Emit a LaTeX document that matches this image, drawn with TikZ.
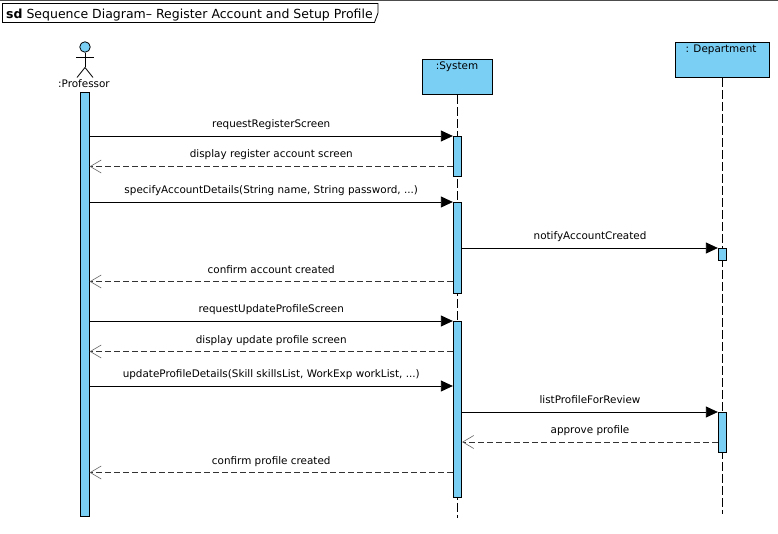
\documentclass[tikz,border=0pt]{standalone}
\usepackage{fontspec}
\setmainfont{DejaVu Sans}
\usetikzlibrary{arrows.meta}
\definecolor{vpblue}{RGB}{122,207,245}
\begin{document}
\begin{tikzpicture}[x=1pt,y=-1pt,
  lbl/.style={font=\fontsize{10.4}{12}\selectfont, inner sep=0pt, anchor=base},
  msglbl/.style={lbl, midway, yshift=8.5pt},
  actbar/.style={draw=black, fill=vpblue, line width=0.8pt, inner sep=0pt, minimum width=8.5pt, anchor=north},
  objbox/.style={draw=black, fill=vpblue, line width=0.9pt, inner sep=0pt, anchor=north west},
  lifeline/.style={draw=black, line width=0.8pt, dash pattern=on 9pt off 3pt},
  syncmsg/.style={draw=black, line width=0.8pt, -{Triangle[length=12pt,width=11pt]}},
  retmsg/.style={draw=black!80, line width=0.8pt, dash pattern=on 6pt off 3pt, -{Straight Barb[length=11pt,width=13pt,line width=0.6pt,color=black!60]}},
  actorline/.style={draw=black, line width=0.8pt}
]
\useasboundingbox (0,0) rectangle (778,534);
\fill[white] (0,0) rectangle (778,534);
\draw[black!70, line width=1.2pt] (0,0.5) -- (778,0.5);

% title tab
\draw[black, line width=0.8pt] (2.5,3.5) -- (378,3.5) -- (378,13) -- (374.5,22.5) -- (2.5,22.5) -- cycle;
\node[font=\fontsize{12.5}{14}\selectfont, inner sep=0pt, anchor=base west] (title) at (6,18.5) {\textbf{sd} Sequence Diagram– Register Account and Setup Profile};

% actor
\node[circle, draw=black, fill=vpblue, line width=0.8pt, minimum size=10.5pt, inner sep=0pt] (head) at (85,47) {};
\coordinate (hip) at (85,67.5);
\coordinate (larm) at (76,57);
\coordinate (rarm) at (94,57);
\coordinate (lfoot) at (77,77.5);
\coordinate (rfoot) at (93,77.5);
\draw[actorline] (head.south) -- (hip);
\draw[actorline] (larm) -- (rarm);
\draw[actorline] (lfoot) -- (hip) -- (rfoot);
\node[lbl] (proflbl) at (84,87.5) {:Professor};

% objects
\node[objbox, minimum width=70pt, minimum height=35pt] (sys) at (422,59) {};
\node[lbl] (syslbl) at (457,70) {:System};
\node[objbox, minimum width=94pt, minimum height=35pt] (dep) at (675,42) {};
\node[lbl] (deplbl) at (721,53) {: Department};

% lifelines
\coordinate (sysend) at (457,518);
\coordinate (depend) at (722,514);
\draw[lifeline] (sys.south -| sysend) -- (sysend);
\draw[lifeline] (dep.south -| depend) -- (depend);

% activation bars
\node[actbar, minimum height=424pt] (pbar) at (85,92) {};
\node[actbar, minimum height=40pt] (s1) at (457.5,136) {};
\node[actbar, minimum height=91pt] (s2) at (457.5,202) {};
\node[actbar, minimum height=176pt] (s3) at (457.5,321) {};
\node[actbar, minimum height=12pt] (d1) at (722.5,248) {};
\node[actbar, minimum height=40pt] (d2) at (722.5,412) {};

% messages
\draw[syncmsg] (pbar.east |- s1.north) -- node[msglbl] (l1) {requestRegisterScreen} (s1.north west);

\coordinate (r1) at (457,166.5);
\draw[retmsg] (s1.west |- r1) -- node[msglbl] (l2) {display register account screen} (pbar.east |- r1);

\draw[syncmsg] (pbar.east |- s2.north) -- node[msglbl] (l3) {specifyAccountDetails(String name, String password, ...)} (s2.north west);

\draw[syncmsg] (s2.east |- d1.north) -- node[msglbl] (l4) {notifyAccountCreated} (d1.north west);

\coordinate (r2) at (457,281.5);
\draw[retmsg] (s2.west |- r2) -- node[msglbl] (l5) {confirm account created} (pbar.east |- r2);

\draw[syncmsg] (pbar.east |- s3.north) -- node[msglbl] (l6) {requestUpdateProfileScreen} (s3.north west);

\coordinate (r3) at (457,351.5);
\draw[retmsg] (s3.west |- r3) -- node[msglbl] (l7) {display update profile screen} (pbar.east |- r3);

\coordinate (m8) at (457,386);
\draw[syncmsg] (pbar.east |- m8) -- node[msglbl] (l8) {updateProfileDetails(Skill skillsList, WorkExp workList, ...)} (s3.west |- m8);

\draw[syncmsg] (s3.east |- d2.north) -- node[msglbl] (l9) {listProfileForReview} (d2.north west);

\coordinate (r4) at (722,442);
\draw[retmsg] (d2.west |- r4) -- node[msglbl] (l10) {approve profile} (s3.east |- r4);

\coordinate (r5) at (457,472.5);
\draw[retmsg] (s3.west |- r5) -- node[msglbl] (l11) {confirm profile created} (pbar.east |- r5);
\end{tikzpicture}
\end{document}
